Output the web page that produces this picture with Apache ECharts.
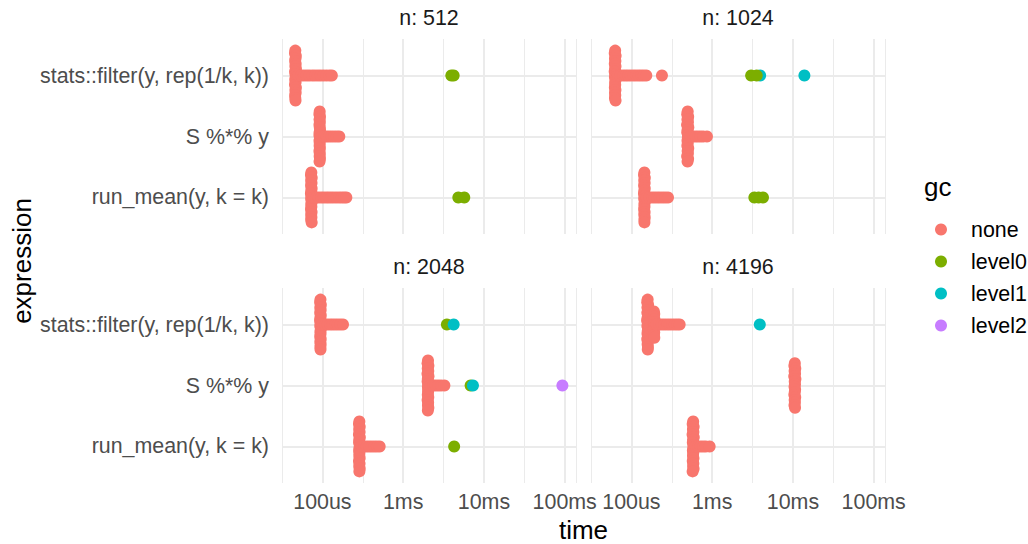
<!DOCTYPE html>
<html>
<head>
<meta charset="utf-8">
<title>bench timings by n</title>
<script src="https://cdn.jsdelivr.net/npm/echarts@6/dist/echarts.min.js"></script>
<style>
  html, body { margin: 0; padding: 0; background: #ffffff; }
  #chart { width: 1028px; height: 544px; }
</style>
</head>
<body>
<div id="chart"></div>
<script>
// Facets (vector length n), benchmarked expressions and gc levels
const panels = ['n: 512', 'n: 1024', 'n: 2048', 'n: 4196'];
const expressions = ['stats::filter(y, rep(1/k, k))', 'S %*% y', 'run_mean(y, k = k)'];
const gcLevels = ['none', 'level0', 'level1', 'level2'];
const gcColors = ['#F8766D', '#7CAE00', '#00BFC4', '#C77CFF'];

// Time axis ticks (seconds) and their labels
const tickValues = [1e-4, 1e-3, 1e-2, 1e-1];
const tickLabels = ['100us', '1ms', '10ms', '100ms'];

// Iteration timings in microseconds, one array per facet / expression / gc level
const n512_filter_none = [46.2, 45.8, 46.9, 46.5, 46.0, 46.7, 46.3, 47.1, 45.9, 46.4,
  46.8, 46.1, 46.6, 45.8, 47.0, 46.3, 46.7, 46.0, 46.2, 46.5,
  50.5, 54.5, 59, 64, 69, 75, 81, 88, 95, 103, 112, 122, 131];
const n512_filter_level0 = [3950, 4220];
const n512_S_none = [92.6, 91.8, 93.4, 92.2, 93.0, 92.0, 92.8, 93.5, 92.3, 91.9,
  93.2, 92.1, 92.7, 92.4, 93.1, 91.9, 92.9, 92.5, 93.3, 92.2,
  99, 106, 113, 121, 130, 140, 151, 162];
const n512_runmean_none = [73.0, 72.2, 73.8, 72.6, 73.4, 72.4, 73.6, 72.9, 72.1, 73.3,
  72.5, 73.9, 72.8, 73.1, 72.3, 73.5, 72.7, 73.2, 72.6, 73.7,
  78.5, 84, 90, 97, 104, 112, 120, 129, 139, 150, 162, 174, 186, 198];
const n512_runmean_level0 = [4820, 5710];

const n1024_filter_none = [63.0, 62.2, 63.8, 62.6, 63.4, 62.3, 63.6, 62.8, 62.1, 63.3,
  62.5, 63.9, 62.9, 63.1, 62.4, 63.5, 62.7, 63.2, 62.6, 63.7,
  68, 73, 79, 85, 91, 98, 106, 114, 123, 132, 142, 153, 239];
const n1024_filter_level0 = [3040, 3560];
const n1024_filter_level1 = [3930, 13870];
const n1024_S_none = [498, 491, 505, 494, 502, 489, 507, 496, 492, 503,
  500, 495, 499, 493, 506, 497, 501, 490, 504, 496,
  540, 580, 625, 670, 720, 775, 862];
const n1024_runmean_none = [145, 143.3, 146.7, 144.2, 146.0, 143.6, 146.4, 144.6, 143.1, 145.6,
  144.0, 146.9, 144.8, 145.3, 143.8, 145.8, 144.4, 146.2, 144.9, 145.1,
  155, 167, 180, 194, 209, 225, 243, 262, 284];
const n1024_runmean_level0 = [3330, 3760, 4260];

const n2048_filter_none = [94.7, 93.7, 95.7, 94.2, 95.2, 93.9, 95.5, 94.4, 93.6, 95.0,
  94.1, 95.8, 94.6, 94.9, 94.0, 95.3, 94.3, 95.1, 94.5, 94.8,
  101, 108, 116, 125, 134, 144, 155, 167, 180];
const n2048_filter_level0 = [3480];
const n2048_filter_level1 = [4220];
const n2048_S_none = [2030, 2005, 2055, 2015, 2045, 2000, 2060, 2020, 2010, 2050,
  2025, 2040, 2035, 2018, 2048, 2008, 2038, 2028, 2052, 2022,
  2180, 2350, 2530, 2730, 2950, 3240];
const n2048_S_level0 = [6840];
const n2048_S_level1 = [7310];
const n2048_S_level2 = [93650];
const n2048_runmean_none = [287, 284, 290, 285.5, 289, 283.5, 291, 286, 284.5, 290.5,
  288, 285, 287.5, 286.5, 289.5, 284, 288.5, 286, 290, 287,
  305, 328, 353, 380, 409, 440, 474, 512];
const n2048_runmean_level0 = [4280];

const n4196_filter_none = [159, 157, 161, 158, 160.5, 157.5, 161.5, 158.5, 156.5, 160,
  157.8, 161.2, 159.3, 158.2, 160.8, 157.2, 159.7, 158.8, 160.2, 159.5,
  190, 192, 189, 193, 191, 190.5, 192.5, 189.5, 191.5, 190.2, 192.2,
  205, 221, 238, 256, 276, 297, 320, 345, 370, 396];
const n4196_filter_level1 = [3890];
const n4196_S_none = [10560, 10420, 10700, 10490, 10630, 10380, 10740, 10530, 10600,
  10470, 10650, 10550, 10410, 10680, 10510, 10580, 10450, 10620];
const n4196_runmean_none = [582, 574, 590, 578, 586, 572, 592, 580, 576, 588,
  584, 577, 583, 579, 587, 575, 585, 581, 589, 573,
  625, 672, 722, 776, 834, 931];

// [facet, expression, gc level, timings]
const timings = [
  [0, 0, 'none', n512_filter_none], [0, 0, 'level0', n512_filter_level0],
  [0, 1, 'none', n512_S_none],
  [0, 2, 'none', n512_runmean_none], [0, 2, 'level0', n512_runmean_level0],
  [1, 0, 'none', n1024_filter_none], [1, 0, 'level0', n1024_filter_level0], [1, 0, 'level1', n1024_filter_level1],
  [1, 1, 'none', n1024_S_none],
  [1, 2, 'none', n1024_runmean_none], [1, 2, 'level0', n1024_runmean_level0],
  [2, 0, 'none', n2048_filter_none], [2, 0, 'level0', n2048_filter_level0], [2, 0, 'level1', n2048_filter_level1],
  [2, 1, 'none', n2048_S_none], [2, 1, 'level0', n2048_S_level0], [2, 1, 'level1', n2048_S_level1], [2, 1, 'level2', n2048_S_level2],
  [2, 2, 'none', n2048_runmean_none], [2, 2, 'level0', n2048_runmean_level0],
  [3, 0, 'none', n4196_filter_none], [3, 0, 'level1', n4196_filter_level1],
  [3, 1, 'none', n4196_S_none],
  [3, 2, 'none', n4196_runmean_none]
];

// Beeswarm layout: timings that pile up at (almost) the same value are spread
// across the category band, isolated timings stay on the centre line.
const CLUSTER = 0.025;      // decades
const MAX_HALF = 0.41;      // band units
const FULL_COUNT = 20;      // points needed to reach the full band width
function swarm(values) {
  const pts = values.map((v, i) => ({ lx: Math.log10(v * 1e-6), i }))
    .sort((a, b) => a.lx - b.lx);
  const out = [];
  let s = 0;
  while (s < pts.length) {
    let e = s;
    while (e + 1 < pts.length && pts[e + 1].lx - pts[s].lx < CLUSTER) e++;
    const group = pts.slice(s, e + 1).sort((a, b) => a.i - b.i);
    const m = group.length;
    const w = MAX_HALF * Math.min(1, (m - 1) / (FULL_COUNT - 1));
    group.forEach((p, k) => {
      const u = m === 1 ? 0 : -w + (2 * w * k) / (m - 1);
      out.push([p.lx, u]);
    });
    s = e + 1;
  }
  return out;
}

const FONT = '"Liberation Sans", Arial, Helvetica, sans-serif';
const SMALL = 21.4;
const LARGE = 26;
const grids = [
  { left: 282, top: 39, width: 294, height: 195 },
  { left: 591, top: 39, width: 294, height: 195 },
  { left: 282, top: 288, width: 294, height: 195 },
  { left: 591, top: 288, width: 294, height: 195 }
];
const X_MIN = -4.5, X_MAX = -0.86;

function timeLabel(v) {
  const k = tickValues.findIndex(t => Math.abs(Math.log10(t) - v) < 1e-6);
  return k >= 0 ? tickLabels[k] : '';
}
function exprLabel(v) {
  const r = Math.round(v);
  return Math.abs(v - r) < 1e-6 && r >= 1 && r <= expressions.length ? expressions[r - 1] : '';
}

const CLEAR = 'rgba(0,0,0,0)';
const GRID_GREY = '#EBEBEB';
const xAxis = [];
const yAxis = [];
grids.forEach((g, p) => {
  // major grid lines + labels
  xAxis.push({
    type: 'value', gridIndex: p, min: X_MIN, max: X_MAX, interval: 0.5,
    axisLine: { show: false }, axisTick: { show: false },
    axisLabel: { show: p >= 2, formatter: timeLabel, fontSize: SMALL, color: '#4D4D4D', margin: 8, fontFamily: FONT },
    splitLine: { show: true, lineStyle: { color: [CLEAR, GRID_GREY], width: 2 } }
  });
  // minor grid lines
  xAxis.push({
    type: 'value', gridIndex: p, min: X_MIN, max: X_MAX, interval: 0.5,
    axisLine: { show: false }, axisTick: { show: false }, axisLabel: { show: false },
    splitLine: { show: true, lineStyle: { color: [GRID_GREY, CLEAR], width: 1 } }
  });
  yAxis.push({
    type: 'value', gridIndex: p, min: 0.4, max: 3.6, interval: 0.2, inverse: true,
    axisLine: { show: false }, axisTick: { show: false },
    axisLabel: { show: p % 2 === 0, formatter: exprLabel, fontSize: SMALL, color: '#4D4D4D', margin: 13, fontFamily: FONT },
    splitLine: { show: true, lineStyle: { color: [CLEAR, CLEAR, CLEAR, GRID_GREY, CLEAR], width: 2 } }
  });
});

const series = [];
panels.forEach((_, p) => {
  const order = p === 1 ? ['none', 'level1', 'level0', 'level2'] : gcLevels;
  order.forEach(gc => {
    const data = [];
    timings.filter(r => r[0] === p && r[2] === gc).forEach(r => {
      swarm(r[3]).forEach(([lx, u]) => data.push([lx, r[1] + 1 + u]));
    });
    if (!data.length) return;
    series.push({
      type: 'scatter', name: gc, xAxisIndex: 2 * p, yAxisIndex: p,
      data, symbol: 'circle', symbolSize: 12, silent: true,
      itemStyle: { color: gcColors[gcLevels.indexOf(gc)], opacity: 1 }
    });
  });
});

const textEls = panels.map((t, p) => ({
  type: 'text', silent: true,
  x: grids[p].left + grids[p].width / 2, y: grids[p].top - 21,
  style: { text: t, fill: '#1A1A1A', fontSize: SMALL, fontFamily: FONT, align: 'center', verticalAlign: 'middle' }
}));
textEls.push(
  { type: 'text', silent: true, x: 583.5, y: 530,
    style: { text: 'time', fill: '#000000', fontSize: LARGE, fontFamily: FONT, align: 'center', verticalAlign: 'middle' } },
  { type: 'text', silent: true, x: 22, y: 261, rotation: Math.PI / 2,
    style: { text: 'expression', fill: '#000000', fontSize: LARGE, fontFamily: FONT, align: 'center', verticalAlign: 'middle' } },
  { type: 'text', silent: true, x: 924, y: 187,
    style: { text: 'gc', fill: '#000000', fontSize: LARGE, fontFamily: FONT, align: 'left', verticalAlign: 'middle' } }
);

const chart = echarts.init(document.getElementById('chart'), null, { renderer: 'svg' });
chart.setOption({
  animation: false,
  backgroundColor: '#ffffff',
  textStyle: { fontFamily: FONT },
  grid: grids.map(g => Object.assign({ outerBoundsMode: 'none', containLabel: false }, g)),
  xAxis, yAxis, series,
  legend: {
    orient: 'vertical', left: 935, top: 219, padding: 0,
    itemWidth: 12, itemHeight: 12, itemGap: 11, selectedMode: false,
    data: gcLevels.map(name => ({ name, icon: 'circle' })),
    textStyle: { fontSize: SMALL, color: '#000000', fontFamily: FONT, padding: [0, 0, 0, 19] }
  },
  graphic: textEls
});
</script>
</body>
</html>
